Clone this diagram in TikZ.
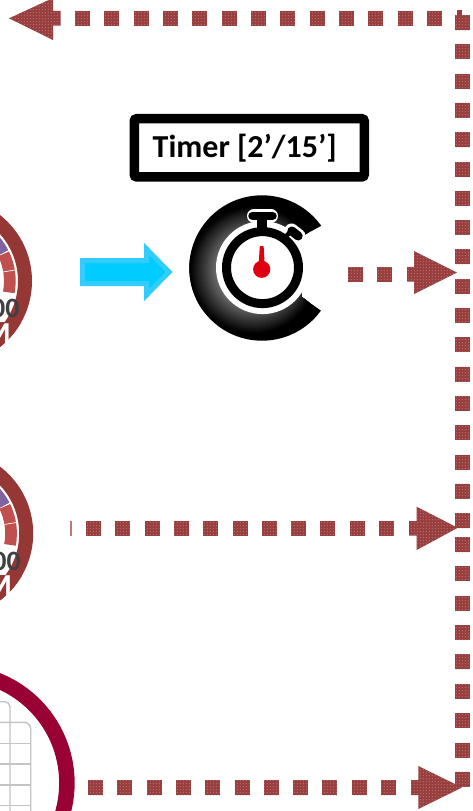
\documentclass[tikz,border=0pt]{standalone}
\usepackage{fontspec}
\setmainfont{Carlito}
\usetikzlibrary{patterns}
\definecolor{dotred}{HTML}{983E3E}
\definecolor{dotlight}{HTML}{D8A0A0}
\definecolor{gaugered}{HTML}{953735}
\definecolor{segred}{HTML}{C0504D}
\definecolor{segpurple}{HTML}{8064A2}
\definecolor{crimson}{HTML}{990033}
\definecolor{skyfill}{HTML}{00CCFF}
\definecolor{skyline}{HTML}{33CCFF}
\definecolor{gridgrey}{HTML}{C4C4C4}
\definecolor{needlered}{HTML}{E0000F}
\pgfdeclarepatternformonly{speck}{\pgfqpoint{-1pt}{-1pt}}{\pgfqpoint{2pt}{2pt}}{\pgfqpoint{3pt}{3pt}}{%
  \pgfpathrectangle{\pgfqpoint{0pt}{0pt}}{\pgfqpoint{1pt}{1pt}}\pgfusepath{fill}}
\tikzset{
  dotfill/.style={fill=dotred,draw=none},
  speckfill/.style={pattern=speck,pattern color=dotlight},
  ringline/.style={draw=gaugered,line width=14pt},
  gridline/.style={draw=gridgrey,line width=1.4pt},
  seg/.style={line width=11.7pt},
  skyarrow/.style={fill=skyfill,draw=skyline,line width=5pt,line join=miter},
  timerbox/.style={draw=black,line width=9.5pt,rounded corners=2.5pt,fill=white,
    minimum width=230pt,minimum height=58.2pt,inner sep=0pt,
    font=\fontsize{32}{34}\selectfont\bfseries},
}
\newcommand{\dotsq}[2]{%
  \path[dotfill] (#1,#2) rectangle ++(15,15);
  \path[speckfill] (#1,#2) rectangle ++(15,15);}
\newcommand{\dotpoly}[1]{%
  \path[fill=dotred] #1;
  \path[speckfill] #1;}
\newcommand{\gaugeat}[2]{%
  \begin{scope}[shift={(#1,#2)}]
    \path[ringline] (-52,0) circle (77);
    \begin{scope}
      \clip (-52,0) circle (84);
      \path[fill=gaugered] (-10,41) rectangle (40,90);
    \end{scope}
    \draw[segred,seg] (-52,0) ++(10.6:61.85) arc (10.6:-26:61.85);
    \draw[white,line width=.7pt] (-52,0) ++(-9.3:56) -- ++(-9.3:12);
    \draw[segpurple,seg] (-52,0) ++(-27:61.85) arc (-27:-50:61.85);
    \node[font=\fontsize{28}{30}\selectfont\bfseries,text=black!75,anchor=east,inner sep=0pt] at (19.8,27.5) {00};
    \node[font=\fontsize{32}{34}\selectfont\bfseries,text=white,anchor=east,inner sep=0pt] at (11,53) {M};
  \end{scope}}
\begin{document}
\begin{tikzpicture}[x=1pt,y=-1pt]
\useasboundingbox[fill=white] (0,0) rectangle (473,811);

% gauges
\begin{scope}
  \clip (0,0) rectangle (473,811);
  \gaugeat{0}{281}
  \gaugeat{1.2}{533.5}
  % round frame with grid
  \path[gridline] (0,701.7) -- (5,701.7) arc (-90:0:5) -- (10,811);
  \path[gridline] (0,722.3) -- (24,722.3) arc (-90:0:6.7) -- (30.7,811);
  \foreach \gy in {743.3,764,785,805.7} \path[gridline] (0,\gy) -- (30.7,\gy);
  \path[draw=crimson,line width=15.5pt] (-43.6,783) circle (110.5);
\end{scope}

% blue arrow
\path[skyarrow] (82.5,260.5) -- (146.5,260.5) -- (146.5,249) -- (169,272) -- (146.5,295) -- (146.5,283.5) -- (82.5,283.5) -- cycle;

% timer
\node[timerbox] (timer) at (249.25,147.8) {\raisebox{-1.8pt}{\hspace*{-9pt}Timer [2’/15’]}};

% stopwatch icon
\begin{scope}
  \clip (262,268) circle (72.7);
  \clip (180,188) -- (345,188) -- (345,213) -- (322.7,225) -- (295,240) -- (301.7,297) -- (320,310) -- (345,327) -- (345,350) -- (180,350) -- cycle;
  \path[fill=black] (180,188) rectangle (345,350);
  \foreach \r in {65,64,...,30} {
    \pgfmathsetmacro{\shadeval}{min(100,max(55,55+(\r-36)*45/28))}
    \path[fill=black!\shadeval] (254,270) circle (\r);
  }
\end{scope}
\path[fill=white] (262.5,267.6) circle (46.5);
\path[draw=white,line width=14pt,line cap=round] (254,215.8) -- (271,215.8);
\path[draw=white,line width=15pt] (262.3,218) -- (262.3,230);
\path[draw=white,line width=14pt,line cap=round] (291.5,230.5) -- (298.5,236);
\path[draw=white,line width=9pt] (284,236) -- (292,228);
\path[draw=black,line width=9pt] (262.5,267.6) circle (36);
\path[draw=black,line width=8.5pt,line cap=round] (252.5,215.8) -- (272.5,215.8);
\path[draw=black,line width=10pt] (262.3,218) -- (262.3,230);
\path[draw=black,line width=9pt,line cap=round] (291.8,231) -- (298.2,236);
\path[draw=black,line width=4.5pt] (284,238) -- (290.5,232);
\path[fill=needlered] (259.7,247) -- (260.2,246) -- (263.2,246) -- (263.7,247) -- (264.5,261.5) -- (261.7,262) -- (258.9,261.5) -- cycle;
\path[fill=needlered] (261.7,269.3) circle (8.6);

% dotted frame: top row
\dotpoly{(9,18.3) -- (53,-2) -- (53,10.8) -- (60.6,10.8) -- (60.6,25.7) -- (53,25.7) -- (53,40) -- cycle}
\foreach \k in {0,...,12} {\pgfmathsetmacro{\px}{75+29.33*\k}\dotsq{\px}{10.8}}

% dotted frame: right column
\foreach \k in {0,...,17} {\pgfmathsetmacro{\py}{15+29.3*\k}\dotsq{455}{\py}}
\foreach \k in {0,...,8} {\pgfmathsetmacro{\py}{537+29.36*\k}\dotsq{455}{\py}}
\path[fill=dotred] (457,10) rectangle (462,15.5);

% first branch
\foreach \k in {0,1} {\pgfmathsetmacro{\px}{348+29.3*\k}\dotsq{\px}{266.8}}
\dotpoly{(407,266.8) -- (414,266.8) -- (414,251) -- (457,272.5) -- (414,294) -- (414,281.5) -- (407,281.5) -- cycle}

% second branch
\path[fill=dotlight!60!dotred] (70,520.7) rectangle (72,535.7);
\foreach \k in {0,...,10} {\pgfmathsetmacro{\px}{86+29.3*\k}\dotsq{\px}{520.7}}
\dotpoly{(409,521) -- (416.7,521) -- (416.7,506.7) -- (457.7,527.8) -- (416.7,550) -- (416.7,535.7) -- (409,535.7) -- cycle}

% third branch
\foreach \k in {0,...,10} {\pgfmathsetmacro{\px}{88+29.3*\k}\dotsq{\px}{780}}
\dotpoly{(411,780) -- (418.3,780) -- (418.3,766) -- (462,787.5) -- (418.3,809) -- (418.3,795) -- (411,795) -- cycle}
\end{tikzpicture}
\end{document}
